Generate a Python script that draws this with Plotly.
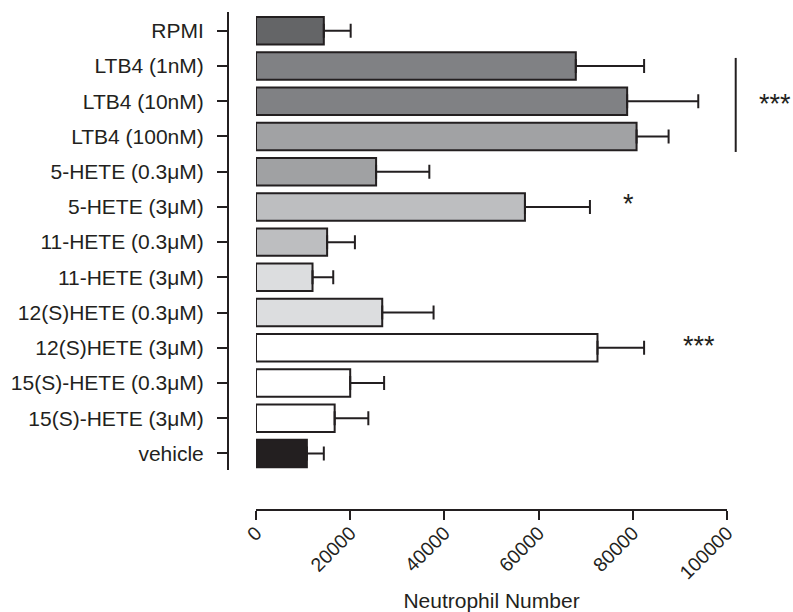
import plotly.graph_objects as go

categories = ["RPMI", "LTB4 (1nM)", "LTB4 (10nM)", "LTB4 (100nM)",
              "5-HETE (0.3μM)", "5-HETE (3μM)", "11-HETE (0.3μM)", "11-HETE (3μM)",
              "12(S)HETE (0.3μM)", "12(S)HETE (3μM)", "15(S)-HETE (0.3μM)",
              "15(S)-HETE (3μM)", "vehicle"]
means = [14400, 67900, 78800, 80800, 25500, 57100, 15100, 12000,
         26800, 72500, 20000, 16700, 10800]
errors = [5700, 14500, 15100, 6800, 11300, 13800, 5900, 4400,
          10900, 9900, 7200, 7150, 3600]
x_ticks = [0, 20000, 40000, 60000, 80000, 100000]
x_title = "Neutrophil Number"

colors = ["#646567", "#808184", "#808184", "#a1a2a4", "#a0a1a3", "#bdbec0",
          "#bdbec0", "#dcdddf", "#dcdddf", "#ffffff", "#ffffff", "#ffffff", "#231f20"]
ink = "#231f20"
FONT = "Liberation Sans, Arial, sans-serif"

XDOM = [28 / 552, 499 / 552]
XMAX = 100000


def xpaper(v):
    return XDOM[0] + (v / XMAX) * (XDOM[1] - XDOM[0])


fig = go.Figure()
fig.add_trace(go.Bar(
    x=means, y=categories, orientation="h", width=0.78,
    marker=dict(color=colors, line=dict(color=ink, width=2)),
    error_x=dict(type="data", array=errors, arrayminus=[0] * len(errors),
                 symmetric=False, color=ink, thickness=2, width=7),
    showlegend=False, hoverinfo="skip",
))

# significance bracket and stars
fig.add_shape(type="line", xref="paper", yref="y", x0=xpaper(101850), x1=xpaper(101850),
              y0=0.77, y1=3.44, line=dict(color=ink, width=2))
stars = [("***", 2, 106400, "left", -3), ("*", 5, 79000, "center", 3),
         ("***", 9, 94100, "center", 2)]
for txt, row, xv, anc, ys in stars:
    fig.add_annotation(x=xpaper(xv), xref="paper", y=categories[row], yref="y", text=txt,
                       showarrow=False, xanchor=anc, yanchor="middle", yshift=ys,
                       font=dict(family=FONT, size=27, color=ink))

fig.update_layout(
    width=793, height=612,
    margin=dict(l=228, r=13, t=12, b=102),
    paper_bgcolor="white", plot_bgcolor="white",
    font=dict(family=FONT, color=ink),
    xaxis=dict(domain=XDOM, range=[0, XMAX], anchor="free", position=0, automargin=False,
               tickvals=x_ticks, ticktext=[str(v) for v in x_ticks], tickangle=-45,
               ticks="outside", ticklen=9, tickwidth=2, tickcolor=ink,
               showline=True, linecolor=ink, linewidth=2, showgrid=False, zeroline=False,
               ticklabelstandoff=-6,
               tickfont=dict(family=FONT, size=19.5, color=ink),
               title=dict(text=x_title, font=dict(family=FONT, size=21, color=ink), standoff=34)),
    yaxis=dict(domain=[40 / 498, 1], type="category", categoryorder="array",
               categoryarray=categories, range=[12.47, -0.534], anchor="free", position=0,
               automargin=False,
               ticks="outside", ticklen=10, tickwidth=2, tickcolor=ink,
               showline=True, linecolor=ink, linewidth=2, showgrid=False, zeroline=False,
               ticklabelstandoff=9,
               tickfont=dict(family=FONT, size=21, color=ink)),
)

fig.write_html("out.html", config={"displayModeBar": False},
               post_script="document.body.style.margin='0';document.body.style.overflow='hidden';")
